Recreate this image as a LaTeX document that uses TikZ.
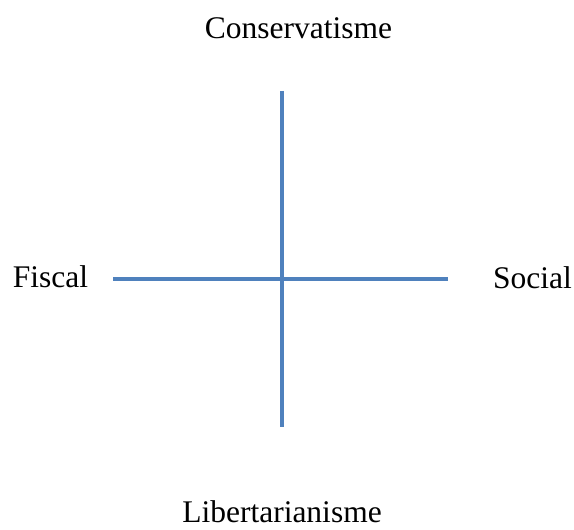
\documentclass[tikz,border=0pt]{standalone}
\usepackage{fontspec}
\setmainfont{Liberation Serif}
\definecolor{axisblue}{RGB}{79,129,189}
\begin{document}
\begin{tikzpicture}[x=1pt,y=1pt,
   axis line/.style={draw=axisblue,line width=4pt},
   axis label/.style={font=\fontsize{31.5}{38}\selectfont,inner sep=0pt}]
\useasboundingbox (0,0) rectangle (574,530);
\coordinate (top) at (281.5,439);
\coordinate (bottom) at (281.5,103);
\coordinate (left) at (113,251);
\coordinate (right) at (448,251);
\node[axis label,anchor=base] (cons) at (298.5,491) {Conservatisme};
\node[axis label,anchor=base] (lib) at (282,7) {Libertarianisme};
\node[axis label,anchor=base] (fisc) at (50.5,242) {Fiscal};
\node[axis label,anchor=base] (soc) at (532.5,241) {Social};
\draw[axis line] (left) -- (right);
\draw[axis line] (top) -- (bottom);
\end{tikzpicture}
\end{document}
